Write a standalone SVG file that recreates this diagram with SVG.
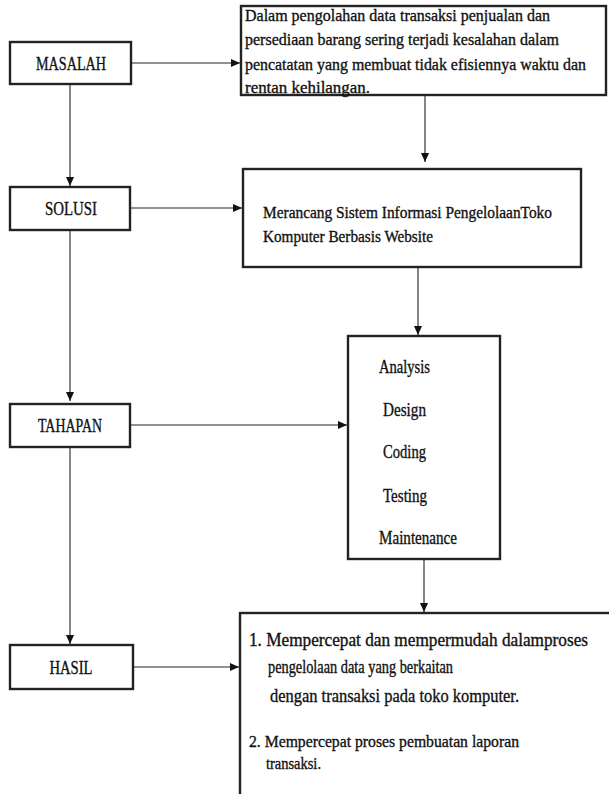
<svg xmlns="http://www.w3.org/2000/svg" width="609" height="794" viewBox="0 0 609 794">
<defs>
<marker id="ah" markerWidth="10" markerHeight="8" refX="9" refY="4" orient="auto" markerUnits="userSpaceOnUse">
<path d="M0,0 L9,4 L0,8 Z" fill="#111"/>
</marker>
<style>
.box{fill:#fff;stroke:#222;stroke-width:2.4}
.ln{fill:none;stroke:#222;stroke-width:1.1}
.t{font-family:"Liberation Serif","Times New Roman",serif;font-size:19px;fill:#111;stroke:#111;stroke-width:0.35}
.s{font-size:17px}
.c{text-anchor:middle}
</style>
</defs>
<rect width="609" height="794" fill="#fff"/>
<g id="connectors">
<line class="ln" x1="131" y1="63" x2="240" y2="63" marker-end="url(#ah)"/>
<line class="ln" x1="70" y1="84" x2="70" y2="186" marker-end="url(#ah)"/>
<line class="ln" x1="425" y1="96" x2="425" y2="162" marker-end="url(#ah)"/>
<line class="ln" x1="130" y1="208" x2="242" y2="208" marker-end="url(#ah)"/>
<line class="ln" x1="70" y1="230" x2="70" y2="401" marker-end="url(#ah)"/>
<line class="ln" x1="418" y1="267" x2="418" y2="335" marker-end="url(#ah)"/>
<line class="ln" x1="130" y1="425" x2="347" y2="425" marker-end="url(#ah)"/>
<line class="ln" x1="70" y1="447" x2="70" y2="644" marker-end="url(#ah)"/>
<line class="ln" x1="424" y1="559" x2="424" y2="612" marker-end="url(#ah)"/>
<line class="ln" x1="133" y1="667" x2="239" y2="667" marker-end="url(#ah)"/>
</g>
<g id="masalah">
<rect class="box" x="10" y="42" width="121" height="42"/>
<text class="t c" x="71" y="70" textLength="70" lengthAdjust="spacingAndGlyphs">MASALAH</text>
</g>
<g id="masalah-detail">
<rect class="box" x="241" y="6" width="365" height="89"/>
<text class="t s" x="245" y="21" textLength="305" lengthAdjust="spacingAndGlyphs">Dalam pengolahan data transaksi penjualan dan</text>
<text class="t s" x="245" y="45" textLength="314" lengthAdjust="spacingAndGlyphs">persediaan barang sering terjadi kesalahan dalam</text>
<text class="t s" x="245" y="70" textLength="341" lengthAdjust="spacingAndGlyphs">pencatatan yang membuat tidak efisiennya waktu dan</text>
<text class="t s" x="245" y="93" textLength="125" lengthAdjust="spacingAndGlyphs">rentan kehilangan.</text>
</g>
<g id="solusi">
<rect class="box" x="10" y="187" width="120" height="43"/>
<text class="t c" x="71" y="215" textLength="52" lengthAdjust="spacingAndGlyphs">SOLUSI</text>
</g>
<g id="solusi-detail">
<rect class="box" x="243" y="169" width="338" height="98"/>
<text class="t s" x="263" y="218" textLength="289" lengthAdjust="spacingAndGlyphs">Merancang Sistem Informasi PengelolaanToko</text>
<text class="t s" x="263" y="242" textLength="170" lengthAdjust="spacingAndGlyphs">Komputer Berbasis Website</text>
</g>
<g id="tahapan">
<rect class="box" x="10" y="404" width="120" height="43"/>
<text class="t c" x="70" y="432" textLength="64" lengthAdjust="spacingAndGlyphs">TAHAPAN</text>
</g>
<g id="tahapan-detail">
<rect class="box" x="348" y="336" width="152" height="223"/>
<text class="t" x="379" y="373" textLength="51" lengthAdjust="spacingAndGlyphs">Analysis</text>
<text class="t" x="383" y="416" textLength="43" lengthAdjust="spacingAndGlyphs">Design</text>
<text class="t" x="383" y="458" textLength="43" lengthAdjust="spacingAndGlyphs">Coding</text>
<text class="t" x="383" y="502" textLength="44" lengthAdjust="spacingAndGlyphs">Testing</text>
<text class="t" x="379" y="544" textLength="78" lengthAdjust="spacingAndGlyphs">Maintenance</text>
</g>
<g id="hasil">
<rect class="box" x="10" y="645" width="123" height="44"/>
<text class="t c" x="71" y="674" textLength="43" lengthAdjust="spacingAndGlyphs">HASIL</text>
</g>
<g id="hasil-detail">
<rect class="box" x="240" y="613" width="380" height="200"/>
<text class="t" x="249" y="646" style="font-size:18px" textLength="339" lengthAdjust="spacingAndGlyphs">1.  Mempercepat dan mempermudah dalamproses</text>
<text class="t" x="268" y="673" style="font-size:18px" textLength="185" lengthAdjust="spacingAndGlyphs">pengelolaan data yang berkaitan</text>
<text class="t" x="270" y="702" style="font-size:19px" textLength="249" lengthAdjust="spacingAndGlyphs">dengan transaksi pada toko komputer.</text>
<text class="t" x="249" y="747" style="font-size:17px" textLength="270" lengthAdjust="spacingAndGlyphs">2.   Mempercepat proses pembuatan laporan</text>
<text class="t" x="266" y="769" style="font-size:17px" textLength="55" lengthAdjust="spacingAndGlyphs">transaksi.</text>
</g>
</svg>
